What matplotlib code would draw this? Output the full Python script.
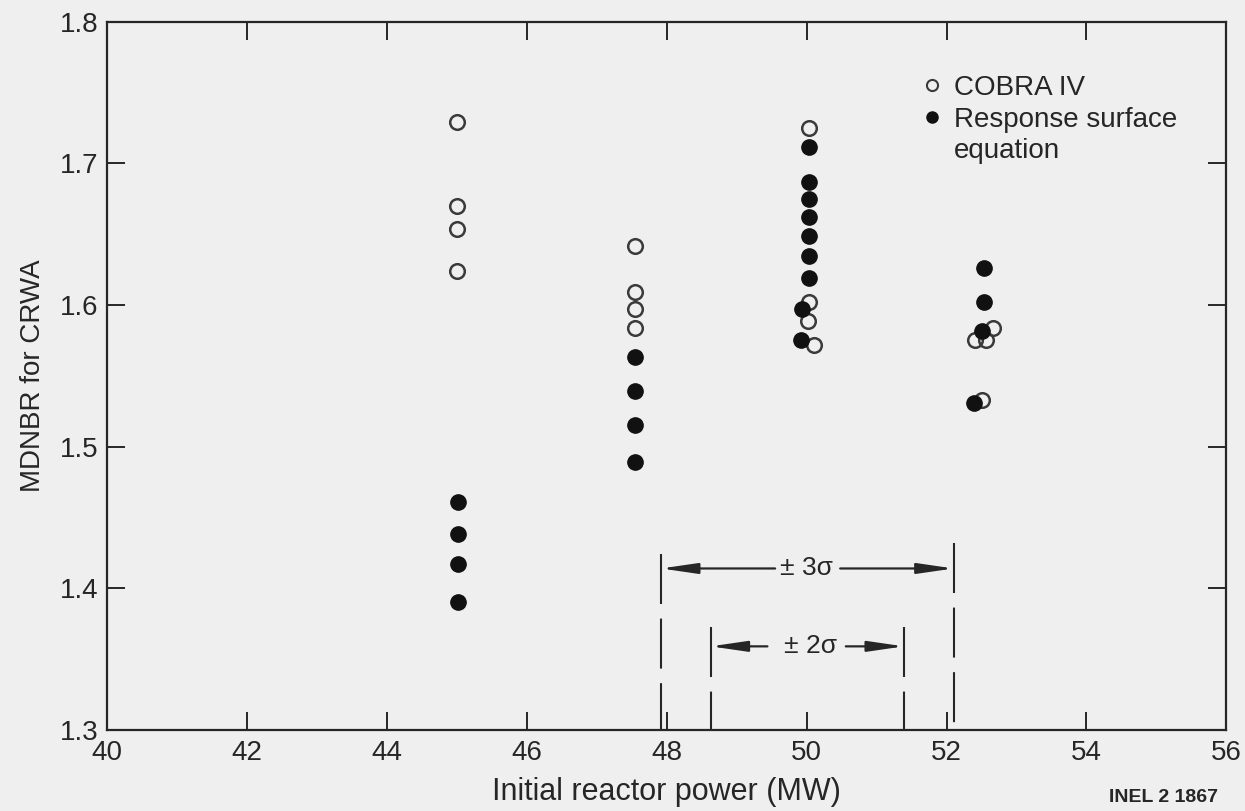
import matplotlib
matplotlib.use('Agg')
import matplotlib.pyplot as plt
from matplotlib.lines import Line2D

# values
cobra_x = [45.0, 45.0, 45.0, 45.0,
           47.55, 47.55, 47.55, 47.55,
           50.03, 50.03, 50.02, 50.11,
           52.41, 52.56, 52.66, 52.51]
cobra_y = [1.729, 1.670, 1.654, 1.624,
           1.642, 1.609, 1.597, 1.584,
           1.725, 1.602, 1.589, 1.572,
           1.575, 1.575, 1.584, 1.533]

rse_x = [45.02, 45.02, 45.02, 45.02,
         47.55, 47.55, 47.55, 47.55,
         50.04, 50.04, 50.04, 50.04, 50.04, 50.04, 50.04, 49.94, 49.92,
         52.54, 52.53, 52.51, 52.39]
rse_y = [1.461, 1.438, 1.417, 1.390,
         1.563, 1.539, 1.515, 1.489,
         1.712, 1.687, 1.675, 1.662, 1.649, 1.635, 1.619, 1.597, 1.575,
         1.626, 1.602, 1.582, 1.531]

# +/- sigma bands around 50 MW
band_labels = ['\u00b1 3\u03c3', '\u00b1 2\u03c3']
band_lo = [47.92, 48.63]
band_hi = [52.10, 51.39]
band_y = [1.414, 1.359]
band_text_x = [50.0, 50.06]
band_gap = [(49.55, 50.48), (49.44, 50.56)]   # where the arrow line breaks for the text
band_top = [(1.424, 1.432), (1.373, 1.373)]   # top of the left / right dashed lines

xticks = [40, 42, 44, 46, 48, 50, 52, 54, 56]
yticks = [1.3, 1.4, 1.5, 1.6, 1.7, 1.8]

INK = '#262626'
BG = '#efefef'

plt.rcParams['font.family'] = ['Liberation Sans', 'DejaVu Sans']

fig = plt.figure(figsize=(12.45, 8.11), dpi=100, facecolor=BG)
ax = fig.add_axes([0.086, 0.100, 0.899, 0.873], facecolor=BG)

ax.plot(cobra_x, cobra_y, 'o', ms=10.5, mfc='none', mec='#3a3a3a', mew=1.8,
        linestyle='none', zorder=3)
ax.plot(rse_x, rse_y, 'o', ms=11, mfc='#111111', mec='#111111', mew=1.0,
        linestyle='none', zorder=4)

for lab, lo, hi, y, tx, (g0, g1), (t0, t1) in zip(band_labels, band_lo, band_hi,
                                                  band_y, band_text_x,
                                                  band_gap, band_top):
    # dashed limits drawn top-down so the dash pattern starts at the arrow
    ax.plot([lo, lo], [t0, 1.3], color=INK, lw=1.5, ls=(0, (24, 7)))
    ax.plot([hi, hi], [t1, 1.3], color=INK, lw=1.5, ls=(0, (24, 7)))
    arrow = dict(arrowstyle='-|>,head_length=2.2,head_width=0.32',
                 color=INK, lw=1.6, shrinkA=0, shrinkB=0)
    ax.annotate('', xy=(lo, y), xytext=(g0, y), arrowprops=arrow)
    ax.annotate('', xy=(hi, y), xytext=(g1, y), arrowprops=arrow)
    ax.text(tx, y, lab, ha='center', va='center', fontsize=19, color=INK)

ax.set_xlim(40, 56)
ax.set_ylim(1.3, 1.8)
ax.set_xticks(xticks)
ax.set_yticks(yticks)
ax.set_xticklabels([str(t) for t in xticks])
ax.set_yticklabels([f'{t:.1f}' for t in yticks])
ax.tick_params(direction='in', length=13, width=1.4, color=INK,
               labelsize=20, labelcolor=INK, top=True, right=True)
ax.tick_params(axis='x', pad=7)
ax.tick_params(axis='y', pad=6)
for s in ax.spines.values():
    s.set_color(INK)
    s.set_linewidth(1.6)

ax.set_xlabel('Initial reactor power (MW)', fontsize=22, color=INK, labelpad=8)
ax.set_ylabel('MDNBR for CRWA', fontsize=20, color=INK, labelpad=10)

handles = [
    Line2D([], [], marker='o', ls='none', ms=8, mfc='none', mec='#3a3a3a', mew=1.5),
    Line2D([], [], marker='o', ls='none', ms=8, mfc='#111111', mec='#111111'),
    Line2D([], [], ls='none'),
]
ax.legend(handles, ['COBRA IV', 'Response surface', 'equation'],
          loc='upper left', bbox_to_anchor=(0.728, 0.925), frameon=False,
          fontsize=20, borderpad=0, borderaxespad=0, handlelength=0.7,
          handletextpad=0.45, labelspacing=0.2, labelcolor=INK)

fig.text(0.978, 0.017, 'INEL 2 1867', ha='right', va='center',
         fontsize=14, color=INK, fontweight='bold')

fig.savefig('out.png', dpi=100, facecolor=BG)
